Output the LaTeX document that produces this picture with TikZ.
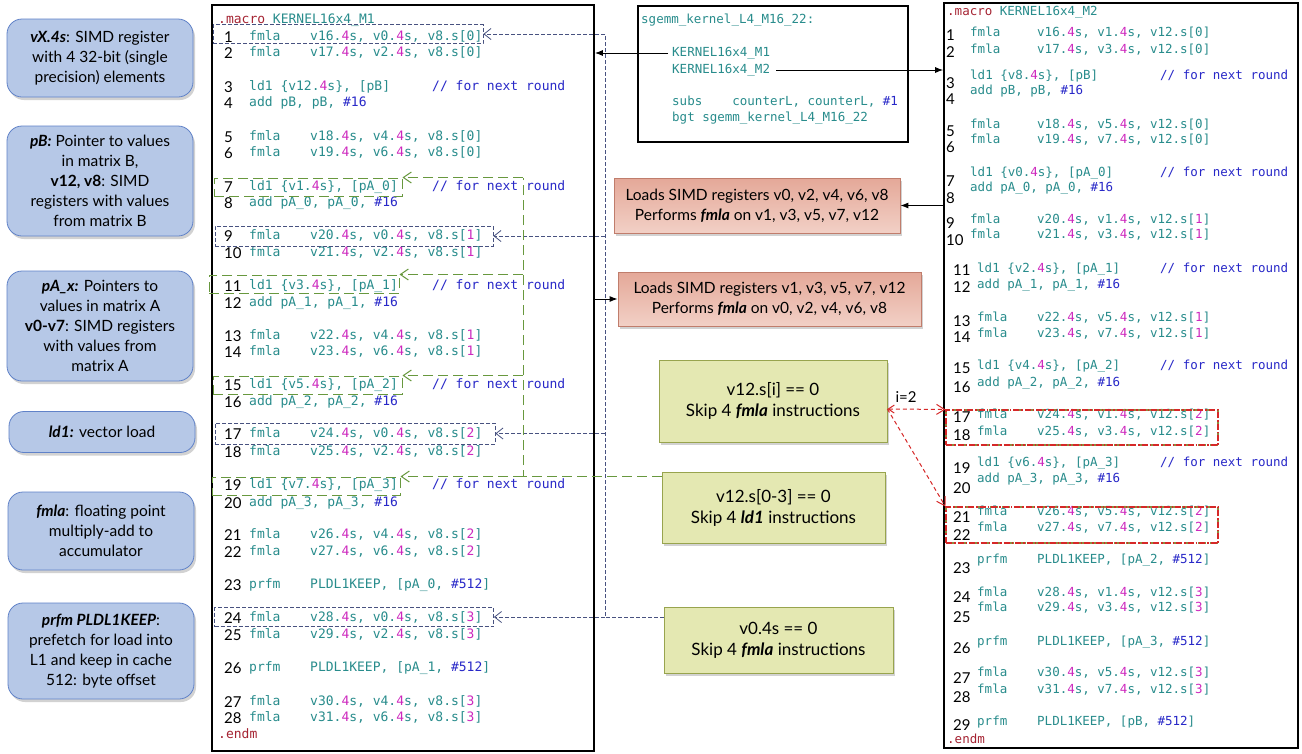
\documentclass[tikz,border=0pt]{standalone}
\usepackage{fontspec}
\setmainfont{Lato}
\setmonofont{DejaVu Sans Mono}
\usepackage{tikz}
\usetikzlibrary{arrows.meta,shadows}
\definecolor{cteal}{RGB}{40,140,140}
\definecolor{cmag}{RGB}{205,40,190}
\definecolor{cblue}{RGB}{40,40,200}
\definecolor{cred}{RGB}{165,35,50}
\definecolor{bluefill}{RGB}{182,200,231}
\definecolor{blueline}{RGB}{96,130,200}
\definecolor{pinktop}{RGB}{228,168,152}
\definecolor{pinkbot}{RGB}{242,208,198}
\definecolor{pinkline}{RGB}{192,125,108}
\definecolor{olivefill}{RGB}{228,232,178}
\definecolor{oliveline}{RGB}{152,164,78}
\definecolor{slate}{RGB}{72,82,128}
\definecolor{dgreen}{RGB}{104,152,62}
\definecolor{dred}{RGB}{214,40,40}
\definecolor{olive}{RGB}{140,140,60}
\newcommand{\qs}{.\textcolor{cmag}{4}s}
\newcommand{\mg}[1]{\textcolor{cmag}{#1}}
\newcommand{\imm}[1]{\textcolor{cblue}{#1}}
\newcommand{\bfit}[1]{\textbf{\textit{#1}}}

\begin{document}
\begin{tikzpicture}[x=1pt,y=-1pt,
  code/.style={font=\fontsize{13}{16}\selectfont\ttfamily, text=cteal, inner sep=0pt, anchor=west, text height=9pt, text depth=2.5pt},
  codeb/.style={code, font=\fontsize{12.5}{15}\selectfont\ttfamily},
  lnum/.style={font=\fontsize{15}{16}\selectfont, inner sep=0pt, anchor=west, text height=10.8pt, text depth=0pt},
  listing/.style={draw=black, line width=1.6pt, fill=white, inner sep=0pt},
  shade/.style={drop shadow={opacity=0.35, shadow xshift=2pt, shadow yshift=-3pt}},
  note/.style={draw=blueline, fill=bluefill, rounded corners=15pt, line width=0.8pt, align=center, font=\fontsize{15.5}{20}\selectfont, minimum width=186, inner sep=2pt, shade},
  pinkbox/.style={draw=pinkline, top color=pinktop, bottom color=pinkbot, line width=0.8pt, align=center, font=\fontsize{15.5}{20}\selectfont, inner sep=2pt, shade},
  skipbox/.style={draw=oliveline, fill=olivefill, line width=0.8pt, align=center, font=\fontsize{17}{21}\selectfont, shade},
  slatebox/.style={draw=slate, dash pattern=on 4pt off 2pt, line width=0.8pt, inner sep=0pt},
  greenbox/.style={draw=dgreen, dash pattern=on 10pt off 5pt, line width=1pt, inner sep=0pt},
  redbox/.style={draw=dred, dash pattern=on 6pt off 2pt on 1.5pt off 2pt, line width=1.1pt, inner sep=0pt, preaction={draw=olive, dash pattern=on 8pt off 4pt}},
  blk/.style={draw=black, line width=1pt, -{Latex[length=8pt,width=6pt]}},
  slateln/.style={draw=slate, dash pattern=on 4pt off 2pt, line width=0.8pt, -{Straight Barb[length=7pt,width=11pt]}},
  greenln/.style={draw=dgreen, dash pattern=on 10pt off 5pt, line width=1pt, -{Straight Barb[length=8pt,width=11pt]}},
  redln/.style={draw=dred, dash pattern=on 4pt off 3pt, line width=1pt, -{Straight Barb[length=8pt,width=10pt]}}]
\fill[white] (0,0) rectangle (1302,753);
\useasboundingbox (0,0) rectangle (1302,753);

\node[note, minimum height=78] (b1) at (100,58) {\bfit{vX.4s}: SIMD register\\with 4 32-bit (single\\precision) elements};
\node[note, minimum height=110] (b2) at (100,181) {\bfit{pB:} Pointer to values\\in matrix B,\\\textbf{v12, v8}: SIMD\\registers with values\\from matrix B};
\node[note, minimum height=110] (b3) at (100,326) {\bfit{pA\_x:} Pointers to\\values in matrix A\\\textbf{v0-v7}: SIMD registers\\with values from\\matrix A};
\node[note, minimum height=41] (b4) at (102,432) {\bfit{ld1:} vector load};
\node[note, minimum height=78] (b5) at (101,531) {\bfit{fmla}: floating point\\multiply-add to\\accumulator};
\node[note, minimum height=96] (b6) at (101,651) {\bfit{prfm PLDL1KEEP}:\\prefetch for load into\\L1 and keep in cache\\512: byte offset};

\node[listing, minimum width=382, minimum height=746] (m1) at (403,378) {};
\node[code] (m1h) at (218,20) {\textcolor{cred}{.macro} KERNEL16x4\_M1};
\foreach \n/\y/\a/\b in {
  1/37/fmla/{v16\qs, v0\qs, v8.s[0]},
  2/53/fmla/{v17\qs, v2\qs, v8.s[0]},
  3/87/{ld1 \{v12\qs\}, [pB]}/{},
  4/103/{add pB, pB, \imm{\#16}}/{},
  5/137/fmla/{v18\qs, v4\qs, v8.s[0]},
  6/153/fmla/{v19\qs, v6\qs, v8.s[0]},
  7/187/{ld1 \{v1\qs\}, [pA\_0]}/{},
  8/203/{add pA\_0, pA\_0, \imm{\#16}}/{},
  9/236/fmla/{v20\qs, v0\qs, v8.s[\mg{1}]},
  10/253/fmla/{v21\qs, v2\qs, v8.s[\mg{1}]},
  11/286/{ld1 \{v3\qs\}, [pA\_1]}/{},
  12/303/{add pA\_1, pA\_1, \imm{\#16}}/{},
  13/336/fmla/{v22\qs, v4\qs, v8.s[\mg{1}]},
  14/352/fmla/{v23\qs, v6\qs, v8.s[\mg{1}]},
  15/385/{ld1 \{v5\qs\}, [pA\_2]}/{},
  16/402/{add pA\_2, pA\_2, \imm{\#16}}/{},
  17/434/fmla/{v24\qs, v0\qs, v8.s[\mg{2}]},
  18/452/fmla/{v25\qs, v2\qs, v8.s[\mg{2}]},
  19/485/{ld1 \{v7\qs\}, [pA\_3]}/{},
  20/503/{add pA\_3, pA\_3, \imm{\#16}}/{},
  21/535/fmla/{v26\qs, v4\qs, v8.s[\mg{2}]},
  22/552/fmla/{v27\qs, v6\qs, v8.s[\mg{2}]},
  23/585/prfm/{PLDL1KEEP, [pA\_0, \imm{\#512}]},
  24/618/fmla/{v28\qs, v0\qs, v8.s[\mg{3}]},
  25/635/fmla/{v29\qs, v2\qs, v8.s[\mg{3}]},
  26/668/prfm/{PLDL1KEEP, [pA\_1, \imm{\#512}]},
  27/702/fmla/{v30\qs, v4\qs, v8.s[\mg{3}]},
  28/718/fmla/{v31\qs, v6\qs, v8.s[\mg{3}]}} {
  \node[lnum] (m1n\n) at (224,\y) {\n};
  \node[code] (m1a\n) at (249,\y) {\a};
  \node[code] (m1b\n) at (310,\y) {\b};
}
\foreach \y in {87,187,286,385,485}
  \node[code, text=cblue] (m1c\y) at (432,\y) {// for next round};
\node[code, text=cred] (m1e) at (218,735) {.endm};

\node[slatebox, minimum width=270, minimum height=19] (s1) at (348,34) {};
\node[slatebox, minimum width=278, minimum height=20] (s9) at (354,236) {};
\node[slatebox, minimum width=280, minimum height=21] (s17) at (355,433.5) {};
\node[slatebox, minimum width=279, minimum height=19] (s24) at (354,617) {};
\node[greenbox, minimum width=188, minimum height=18] (l7) at (308,187) {};
\node[greenbox, minimum width=190, minimum height=18] (l11) at (304,284) {};
\node[greenbox, minimum width=189, minimum height=18] (l15) at (307.5,385) {};
\node[greenbox, minimum width=188, minimum height=18] (l19) at (306,486) {};

\node[listing, minimum width=270, minimum height=136] (sg) at (773,74) {};
\node[codeb] (k0) at (641,20) {sgemm\_kernel\_L4\_M16\_22:};
\node[codeb] (k1) at (672,53) {KERNEL16x4\_M1};
\node[codeb] (k2) at (672,70) {KERNEL16x4\_M2};
\node[codeb] (k3) at (672,102) {subs\ \ \ \ counterL, counterL, \imm{\#1}};
\node[codeb] (k4) at (672,118) {bgt sgemm\_kernel\_L4\_M16\_22};

\node[pinkbox, minimum width=286, minimum height=55] (p1) at (757,205.5) {Loads SIMD registers v0, v2, v4, v6, v8\\Performs \bfit{fmla} on v1, v3, v5, v7, v12};
\node[pinkbox, minimum width=303, minimum height=54] (p2) at (769.5,299) {Loads SIMD registers v1, v3, v5, v7, v12\\Performs \bfit{fmla} on v0, v2, v4, v6, v8};
\node[skipbox, minimum width=228, minimum height=82] (g1) at (773,401) {v12.s[i] == 0\\Skip 4 \bfit{fmla} instructions};
\node[skipbox, minimum width=223, minimum height=71] (g2) at (773.5,507.5) {v12.s[0-3] == 0\\Skip 4 \bfit{ld1}\ instructions};
\node[skipbox, minimum width=229, minimum height=66] (g3) at (778.5,640) {v0.4s == 0\\Skip 4 \bfit{fmla} instructions};

\node[listing, minimum width=354, minimum height=745] (m2) at (1121,375.5) {};
\node[codeb] (m2h) at (947,12) {\textcolor{cred}{.macro} KERNEL16x4\_M2};
\foreach \n/\y/\ny/\a/\b in {
  1/33/35/fmla/{v16\qs, v1\qs, v12.s[0]},
  2/50/52/fmla/{v17\qs, v3\qs, v12.s[0]},
  3/76/83/{ld1 \{v8\qs\}, [pB]}/{},
  4/91/99/{add pB, pB, \imm{\#16}}/{},
  5/125/131/fmla/{v18\qs, v5\qs, v12.s[0]},
  6/140/147/fmla/{v19\qs, v7\qs, v12.s[0]},
  7/173/181/{ld1 \{v0\qs\}, [pA\_0]}/{},
  8/188/198/{add pA\_0, pA\_0, \imm{\#16}}/{},
  9/220/223/fmla/{v20\qs, v1\qs, v12.s[\mg{1}]},
  10/235/240/fmla/{v21\qs, v3\qs, v12.s[\mg{1}]},
  11/269/270/{ld1 \{v2\qs\}, [pA\_1]}/{},
  12/285/287/{add pA\_1, pA\_1, \imm{\#16}}/{},
  13/318/321/fmla/{v22\qs, v5\qs, v12.s[\mg{1}]},
  14/334/337/fmla/{v23\qs, v7\qs, v12.s[\mg{1}]},
  15/366/368/{ld1 \{v4\qs\}, [pA\_2]}/{},
  16/383/387/{add pA\_2, pA\_2, \imm{\#16}}/{},
  17/415/417/fmla/{v24\qs, v1\qs, v12.s[\mg{2}]},
  18/432/435/fmla/{v25\qs, v3\qs, v12.s[\mg{2}]},
  19/463/468/{ld1 \{v6\qs\}, [pA\_3]}/{},
  20/479/488/{add pA\_3, pA\_3, \imm{\#16}}/{},
  21/512/517/fmla/{v26\qs, v5\qs, v12.s[\mg{2}]},
  22/528/535/fmla/{v27\qs, v7\qs, v12.s[\mg{2}]},
  23/560/568/prfm/{PLDL1KEEP, [pA\_2, \imm{\#512}]},
  24/593/597/fmla/{v28\qs, v1\qs, v12.s[\mg{3}]},
  25/608/617/fmla/{v29\qs, v3\qs, v12.s[\mg{3}]},
  26/642/648/prfm/{PLDL1KEEP, [pA\_3, \imm{\#512}]},
  27/673/678/fmla/{v30\qs, v5\qs, v12.s[\mg{3}]},
  28/690/697/fmla/{v31\qs, v7\qs, v12.s[\mg{3}]},
  29/722/725/prfm/{PLDL1KEEP, [pB, \imm{\#512}]}} {
  \pgfmathsetmacro\cx{\n<11 ? 970 : 977}
  \node[lnum] (m2n\n) at (\cx-24,\ny) {\n};
  \node[codeb] (m2a\n) at (\cx,\y) {\a};
  \node[codeb] (m2b\n) at (1037,\y) {\b};
}
\foreach \y in {76,173,269,366,463}
  \node[codeb, text=cblue] (m2c\y) at (1160,\y) {// for next round};
\node[codeb, text=cred] (m2e) at (947,740) {.endm};
\node[redbox, minimum width=272, minimum height=35] (r1) at (1082,427.5) {};
\node[redbox, minimum width=272, minimum height=36] (r2) at (1082,525) {};

\draw[blk] ([xshift=-4pt]k1.west) -- (k1.west -| m1.east);
\draw[blk] ([xshift=6pt]k2.east) -- (k2.east -| m2.west);
\draw[blk] (m2.west |- p1.east) -- (p1.east);
\draw[blk] (m1.east |- p2.west) -- (p2.west);

\coordinate (sv) at (605,0);
\draw[slateln, -] (g3.west |- s24.east) -- (sv |- s24.east) -- (sv |- s1.east);
\foreach \s in {s1,s9,s17,s24}
  \draw[slateln] (sv |- \s.east) -- (\s.east);

\coordinate (gv) at (523,0);
\draw[greenln, -] (g2.west |- l19.north east) -- (gv |- l19.north east) -- (gv |- l7.north east);
\foreach \s in {l7,l11,l15,l19}
  \draw[greenln] (gv |- \s.north east) -- (\s.north east);

\draw[redln, {Straight Barb[length=6pt,width=8pt]}-{Straight Barb[length=8pt,width=10pt]}] ([yshift=-8pt]g1.east) -- (r1.north west);
\draw[redln] ([yshift=-8pt]g1.east) -- (r2.north west);
\node[font=\fontsize{15}{16}\selectfont] (ilab) at (906,397) {i=2};
\end{tikzpicture}
\end{document}
